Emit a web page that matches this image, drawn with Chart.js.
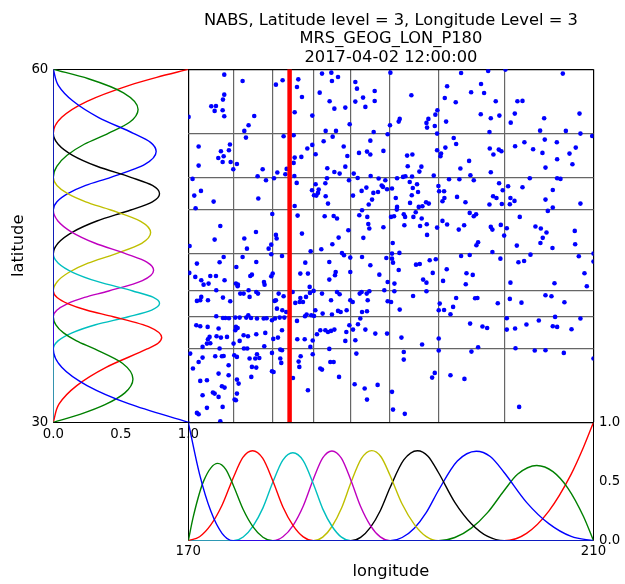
<!DOCTYPE html>
<html>
<head>
<meta charset="utf-8">
<script src="https://cdn.jsdelivr.net/npm/chart.js@4.4.1/dist/chart.umd.min.js"></script>
<style>
  body { margin: 0; background: #fff; }
  #wrap { position: relative; width: 625px; height: 584px; }
  #wrap canvas { position: absolute; left: 0; top: 0; }
</style>
</head>
<body>
<div id="wrap">
  <canvas id="lonChart" width="625" height="584"></canvas>
  <canvas id="latChart" width="625" height="584"></canvas>
  <canvas id="mainChart" width="625" height="584"></canvas>
</div>
<script>
// ---- data ----
const titleLines = ['NABS, Latitude level = 3, Longitude Level = 3', 'MRS_GEOG_LON_P180', '2017-04-02 12:00:00'];
const lonRange = [170, 210];
const latRange = [30, 60];
const lonKnots = [174.44, 178.34, 182.35, 186.04, 189.92, 194.69, 201.18];
const latKnots = [36.23, 38.97, 41.16, 44.30, 48.04, 50.82, 54.56];
const basisTicks = [0, 0.5, 1];
const markerLon = 180;

// longitude basis functions: [lon, value]
const lonB0 = [[170,1],[171.11,0.5625],[172.22,0.25],[173.33,0.0625],[174.44,0],[210,0]];
const lonB1 = [[170,0],[170.5,0.206],[171.5,0.501],[172.9,0.653],[173.7,0.603],[174.44,0.468],[175.42,0.263],[176.39,0.117],[177.37,0.029],[178.34,0],[210,0]];
const lonB2 = [[170,0],[171.11,0.033],[172.22,0.133],[173.33,0.299],[174.44,0.532],[175.39,0.703],[176.34,0.76],[177.34,0.697],[178.34,0.507],[179.34,0.285],[180.35,0.127],[181.35,0.032],[182.35,0],[210,0]];
const lonB3 = [[170,0],[174.44,0],[175.42,0.031],[176.39,0.123],[177.37,0.277],[178.34,0.493],[179.33,0.681],[180.32,0.743],[181.34,0.677],[182.35,0.479],[183.27,0.269],[184.2,0.12],[185.12,0.03],[186.04,0],[210,0]];
const lonB4 = [[170,0],[178.34,0],[179.34,0.033],[180.35,0.13],[181.35,0.293],[182.35,0.521],[183.27,0.699],[184.18,0.758],[185.11,0.697],[186.04,0.513],[187.01,0.289],[187.98,0.128],[188.95,0.032],[189.92,0],[210,0]];
const lonB5 = [[170,0],[182.35,0],[183.27,0.03],[184.2,0.122],[185.12,0.274],[186.04,0.487],[187.08,0.693],[188.11,0.761],[189.02,0.709],[189.92,0.551],[191.11,0.31],[192.31,0.138],[193.5,0.034],[194.69,0],[210,0]];
const lonB6 = [[170,0],[186.04,0],[187.01,0.028],[187.98,0.112],[188.95,0.253],[189.92,0.449],[191.27,0.682],[192.62,0.76],[193.66,0.714],[194.69,0.576],[196.31,0.324],[197.94,0.144],[199.56,0.036],[201.18,0],[210,0]];
const lonB7 = [[170,0],[189.92,0],[191.11,0.027],[192.31,0.106],[193.5,0.239],[194.69,0.424],[196.56,0.673],[198.43,0.756],[199.81,0.711],[201.18,0.576],[203.39,0.324],[205.59,0.144],[207.8,0.036],[210,0]];
const lonB8 = [[170,0],[194.69,0],[196.31,0.027],[197.94,0.106],[199.56,0.239],[201.18,0.424],[202.5,0.561],[204.4,0.635],[206,0.583],[207.5,0.44],[209,0.206],[210,0]];
const lonB9 = [[170,0],[201.18,0],[203.39,0.0625],[205.59,0.25],[207.8,0.5625],[209,0.787],[210,1]];

// latitude basis functions: [lat, value]
const latB0 = [[30,1],[31.56,0.5625],[33.12,0.25],[34.67,0.0625],[36.23,0],[60,0]];
const latB1 = [[30,0],[30.7,0.203],[31.5,0.383],[32.5,0.53],[33.68,0.59],[35,0.514],[36.23,0.306],[36.92,0.172],[37.6,0.076],[38.29,0.019],[38.97,0],[60,0]];
const latB2 = [[30,0],[31.56,0.043],[33.12,0.174],[34.67,0.391],[36.23,0.695],[36.72,0.776],[37.2,0.803],[38.09,0.713],[38.97,0.444],[39.52,0.25],[40.07,0.111],[40.61,0.028],[41.16,0],[60,0]];
const latB3 = [[30,0],[36.23,0],[36.92,0.035],[37.6,0.139],[38.29,0.313],[38.97,0.556],[39.54,0.729],[40.11,0.787],[40.64,0.738],[41.16,0.589],[41.95,0.331],[42.73,0.147],[43.52,0.037],[44.3,0],[60,0]];
const latB4 = [[30,0],[38.97,0],[39.52,0.026],[40.07,0.103],[40.61,0.231],[41.16,0.411],[42.05,0.66],[42.93,0.743],[43.62,0.693],[44.3,0.544],[45.24,0.306],[46.17,0.136],[47.11,0.034],[48.04,0],[60,0]];
const latB5 = [[30,0],[41.16,0],[41.95,0.029],[42.73,0.114],[43.52,0.257],[44.3,0.456],[45.21,0.655],[46.12,0.721],[47.08,0.647],[48.04,0.426],[48.74,0.24],[49.43,0.107],[50.13,0.027],[50.82,0],[60,0]];
const latB6 = [[30,0],[44.3,0],[45.24,0.036],[46.17,0.143],[47.11,0.323],[48.04,0.574],[48.74,0.734],[49.43,0.787],[50.13,0.734],[50.82,0.574],[51.76,0.323],[52.69,0.143],[53.63,0.036],[54.56,0],[60,0]];
const latB7 = [[30,0],[48.04,0],[48.74,0.027],[49.43,0.107],[50.13,0.24],[50.82,0.426],[51.92,0.678],[53.01,0.762],[53.79,0.72],[54.56,0.593],[55.92,0.333],[57.28,0.148],[58.64,0.037],[60,0]];
const latB8 = [[30,0],[50.82,0],[51.76,0.026],[52.69,0.102],[53.63,0.229],[54.56,0.407],[55.5,0.565],[56.59,0.628],[58,0.52],[59.2,0.26],[60,0]];
const latB9 = [[30,0],[54.56,0],[55.92,0.0625],[57.28,0.25],[58.64,0.5625],[59.32,0.766],[60,1]];

// observation locations: [lon, lat]
const obsLonLat = [
  [173.55,59.55],[175.36,59.01],[178.65,58.70],[179.31,59.07],[180.86,59.15],[180.73,58.50],[181.22,57.65],[183.20,59.64],[184.12,59.72],[184.18,59.01],
  [184.78,59.35],[182.97,58.02],[183.95,57.29],[184.42,56.66],[185.50,56.75],[186.49,58.93],[186.65,58.36],[187.25,57.60],[188.40,58.16],[188.40,57.31],
  [187.48,56.81],[186.49,57.26],[189.95,59.72],[173.55,57.85],[173.42,57.43],[172.27,56.86],[172.73,56.89],[172.60,56.47],[173.39,56.52],[173.55,56.01],
  [176.51,56.04],[175.95,55.25],[175.53,54.77],[175.69,54.20],[180.50,56.35],[182.24,56.07],[170.03,55.96],[179.41,54.31],[180.40,54.40],[183.56,54.77],
  [184.58,54.77],[184.25,54.28],[183.36,53.89],[185.93,55.33],[188.30,54.68],[189.68,54.48],[189.91,55.25],[187.97,53.94],[171.02,53.44],[174.11,53.61],
  [173.22,53.04],[174.01,53.12],[173.49,52.61],[172.96,52.47],[173.39,52.13],[174.18,52.13],[174.80,51.96],[174.44,51.51],[171.02,51.82],[177.34,51.51],
  [176.84,50.91],[177.67,50.57],[178.46,50.74],[178.79,51.23],[179.71,51.54],[179.58,51.08],[180.50,52.50],[180.40,52.05],[181.16,52.56],[180.47,50.94],
  [181.75,53.27],[182.24,53.58],[182.57,52.78],[185.34,53.44],[185.70,52.64],[186.85,52.90],[187.64,53.01],[187.97,52.76],[189.26,53.07],[183.72,51.59],
  [184.42,51.28],[184.94,51.14],[185.50,51.73],[186.33,51.14],[185.86,50.57],[186.72,50.77],[188.00,50.94],[188.79,50.72],[189.45,50.57],[183.69,50.74],
  [183.53,50.32],[170.42,50.69],[171.25,49.67],[170.59,49.27],[170.72,48.20],[172.50,48.76],[176.91,49.02],[178.29,47.71],[180.70,50.35],[182.21,49.73],
  [182.57,50.24],[182.87,49.78],[182.80,49.50],[182.41,49.30],[182.64,49.27],[183.56,49.22],[183.79,48.59],[186.26,49.27],[187.11,49.67],[187.58,49.95],
  [188.14,48.93],[188.27,49.50],[188.73,49.58],[189.09,50.12],[189.22,50.01],[189.62,49.81],[187.81,48.51],[187.15,48.03],[186.88,47.60],[187.67,47.46],
  [187.77,46.86],[187.87,46.47],[189.26,46.58],[190.01,47.46],[190.31,47.52],[185.80,46.33],[184.84,45.70],[184.35,47.54],[184.68,47.32],[183.46,47.52],
  [180.50,48.39],[180.79,47.57],[181.22,46.04],[173.16,46.69],[176.68,46.18],[175.53,45.62],[172.60,45.53],[178.65,45.93],[178.72,45.62],[187.28,45.68],
  [196.93,59.69],[199.60,59.86],[201.31,59.98],[206.97,59.64],[192.02,57.80],[195.55,58.56],[195.32,57.57],[196.40,57.20],[198.90,58.76],[197.92,58.05],
  [199.20,57.99],[200.35,57.29],[202.49,57.29],[202.99,57.32],[198.87,56.18],[199.86,55.84],[200.71,56.07],[202.23,56.24],[201.83,55.47],[205.13,55.84],
  [208.62,56.24],[190.87,55.79],[190.77,55.56],[193.51,55.45],[193.57,55.05],[193.70,55.79],[194.39,56.15],[194.59,56.52],[194.33,55.19],[195.45,55.56],
  [194.56,54.54],[199.73,54.68],[204.73,54.79],[207.27,54.77],[208.71,54.54],[209.87,54.34],[196.20,54.17],[196.44,53.66],[195.38,53.35],[194.95,52.84],
  [194.89,52.61],[194.56,53.12],[197.72,52.22],[196.86,51.57],[199.76,53.27],[200.12,52.76],[200.65,53.18],[200.91,53.04],[199.86,51.25],[202.26,53.46],
  [203.18,53.80],[204.04,53.21],[205.19,54.03],[204.96,52.90],[206.38,53.80],[206.41,52.36],[207.63,52.84],[207.92,51.93],[208.25,53.35],[205.26,51.65],
  [191.60,52.67],[192.12,52.76],[191.66,51.76],[193.01,51.73],[192.81,51.31],[194.23,50.97],[190.61,50.74],[191.20,50.86],[191.43,50.91],[192.09,50.89],
  [191.86,50.43],[192.58,50.23],[192.16,49.92],[190.11,49.87],[192.68,49.58],[190.48,49.07],[192.06,49.30],[191.89,48.65],[190.61,48.31],[190.58,48.08],
  [192.75,48.31],[193.11,48.37],[193.47,48.71],[193.74,48.59],[194.69,50.09],[194.76,49.64],[195.25,49.64],[195.28,49.07],[195.09,48.79],[195.74,50.66],
  [196.76,50.66],[197.85,51.00],[198.18,50.57],[196.53,49.16],[197.36,48.71],[199.73,48.51],[200.09,49.22],[200.42,49.07],[200.68,50.32],[201.04,49.72],
  [201.57,50.06],[200.95,48.56],[201.80,49.07],[202.20,48.82],[201.74,48.53],[202.99,49.98],[203.71,50.74],[206.41,50.74],[206.74,50.69],[205.98,49.75],
  [205.26,48.93],[205.98,48.25],[205.49,47.97],[208.71,48.59],[191.27,47.69],[191.40,47.46],[192.45,47.86],[192.22,47.46],[193.04,47.32],[191.33,46.75],
  [192.88,46.69],[193.54,46.84],[193.57,45.93],[194.56,46.55],[195.09,47.12],[195.55,46.81],[197.23,46.75],[196.70,46.38],[197.78,47.80],[198.18,47.52],
  [198.41,47.69],[199.86,46.61],[200.02,46.38],[200.85,46.78],[201.44,46.50],[201.18,45.87],[202.72,47.46],[204.27,46.64],[204.80,46.47],[205.36,46.13],
  [204.99,45.68],[208.15,46.27],
  [190.18,45.24],[190.11,44.34],[190.84,44.40],[190.11,43.91],[190.21,43.57],[190.35,41.79],[190.77,42.95],[191.04,37.20],[191.27,35.98],[191.27,35.33],
  [190.11,32.59],[190.21,31.08],[191.37,30.72],[190.02,40.23],[190.87,39.58],[192.19,40.74],[192.48,43.40],[192.85,43.46],[193.18,42.13],[193.51,41.87],
  [193.51,41.14],[193.83,43.77],[194.43,43.86],[194.13,42.70],[194.82,40.09],[194.72,39.52],[195.25,39.55],[195.88,39.18],[196.14,39.81],[196.44,40.57],
  [195.51,43.01],[195.15,42.02],[196.93,44.14],[197.78,44.22],[197.46,42.67],[198.08,42.53],[197.39,41.73],[198.44,45.05],[198.61,45.30],[200.02,44.48],
  [200.81,43.91],[202.59,43.60],[203.15,43.71],[203.78,44.25],[202.43,45.02],[204.76,45.24],[205.95,44.82],[208.19,45.13],[208.55,44.11],[209.11,42.67],
  [209.34,41.56],[206.15,41.82],[201.80,41.87],[201.74,40.49],[200.55,40.12],[198.31,40.54],[198.54,40.57],[197.82,38.39],[199.04,38.14],[199.50,38.02],
  [201.44,38.84],[201.44,37.88],[202.26,37.97],[202.89,40.17],[203.38,38.31],[204.60,38.65],[205.26,40.80],[205.85,40.71],[207.13,40.20],[206.21,38.96],
  [205.98,38.16],[206.41,38.11],[207.83,37.91],[208.71,38.82],[210.00,44.34],[210.00,43.66],[210.00,35.42],[194.72,37.12],[194.72,36.10],[193.08,36.61],
  [198.61,36.38],[197.95,36.01],[202.30,36.30],[204.20,36.10],[205.26,36.13],[207.07,35.90],[194.33,34.20],[194.07,33.80],[195.88,34.00],[197.26,33.69],
  [202.66,31.31],
  [170.13,44.99],[170.85,43.49],[170.69,42.36],[170.10,42.70],[171.28,42.07],[171.51,41.70],[172.00,41.79],[172.17,42.44],[172.73,42.44],[172.76,41.22],
  [173.09,43.60],[173.49,44.05],[173.58,42.07],[174.74,43.20],[175.36,44.05],[175.79,44.76],[176.12,42.44],[176.28,42.55],[176.71,43.63],[177.47,41.93],
  [177.53,41.70],[174.70,41.79],[174.90,41.70],[174.87,41.56],[175.46,40.94],[175.95,41.22],[176.71,41.08],[176.88,40.94],[176.05,40.66],[175.13,40.94],
  [177.93,44.76],[178.19,45.10],[178.19,44.28],[179.25,44.14],[178.33,42.64],[178.19,42.41],[182.08,44.54],[181.55,43.57],[181.06,42.64],[181.81,42.64],
  [181.98,41.51],[182.37,41.17],[183.20,40.94],[183.13,44.71],[183.92,43.63],[184.22,45.13],[185.17,44.39],[185.37,44.20],[185.99,44.00],[185.99,42.78],
  [184.55,42.78],[184.48,42.50],[183.92,42.13],[187.15,44.05],[187.97,43.35],[188.86,42.55],[189.55,43.97],[189.68,41.93],[189.35,41.22],[187.87,41.14],
  [187.61,40.94],[187.11,41.08],[186.92,40.94],[185.99,40.37],[186.23,40.23],[187.71,40.37],[184.68,41.08],[184.94,40.88],[184.09,40.37],[184.78,39.47],
  [185.04,39.38],[185.63,39.52],[184.18,39.16],[183.26,39.24],[182.41,39.04],[182.14,39.10],[181.68,39.16],[181.52,39.01],[180.99,40.23],[180.56,40.15],
  [181.06,40.57],[181.62,40.66],[182.01,41.00],[181.32,40.23],[178.92,40.94],[179.41,40.71],[180.30,41.08],[178.75,39.66],[179.28,39.52],[179.67,39.38],
  [178.65,40.37],[178.52,40.32],[177.73,38.84],[178.26,38.67],[178.56,38.82],[179.02,38.90],[179.48,38.90],[180.73,38.62],[182.54,39.52],[170.85,40.32],
  [171.18,40.37],[171.94,40.37],[171.28,40.66],[173.42,40.60],[174.14,40.29],[173.42,38.87],[173.65,38.87],[174.01,38.84],[172.76,39.01],[174.64,38.90],
  [175.07,38.90],[174.70,38.11],[174.87,38.02],[174.64,37.82],[175.92,39.10],[175.72,38.90],[176.19,38.87],[176.78,38.82],[177.44,38.82],[170.79,38.25],
  [171.18,38.16],[171.91,38.11],[172.10,37.26],[171.94,37.06],[172.17,36.72],[171.84,36.69],[171.41,36.41],[172.99,37.97],[172.79,37.31],[173.09,36.27],
  [173.49,35.64],[173.22,37.20],[173.82,37.26],[175.07,36.92],[174.47,36.69],[175.46,37.40],[175.89,37.31],[175.49,36.27],[175.82,36.27],[176.71,37.48],
  [177.60,37.60],[178.39,37.09],[178.85,37.20],[179.25,37.82],[177.50,36.47],[178.26,35.90],[179.08,36.18],[179.25,36.13],[179.08,35.42],[179.18,35.05],
  [176.78,35.79],[176.61,35.42],[177.01,35.47],[176.05,35.42],[176.28,34.71],[176.71,34.65],[176.22,33.86],[174.80,35.56],[174.54,35.70],[173.98,34.85],
  [173.32,35.62],[172.66,35.62],[170.46,34.57],[171.41,35.50],[171.02,35.13],[170.19,35.84],[181.49,37.06],[180.76,37.06],[182.28,36.95],[182.28,35.79],
  [182.05,36.41],[182.70,37.48],[183.03,37.82],[183.53,37.82],[183.79,37.68],[184.09,37.77],[184.42,37.88],[183.92,36.24],[184.02,35.13],[184.35,35.13],
  [184.88,33.86],[185.50,36.92],[185.60,37.68],[185.90,38.25],[186.26,37.88],[186.49,36.97],[186.75,38.33],[186.98,38.82],[187.48,37.88],[187.64,39.44],
  [187.15,39.38],[188.46,37.54],[189.62,37.54],[189.68,40.29],[190.34,41.14],[186.59,35.84],[187.41,32.87],[187.64,31.93],[188.69,33.18],[186.42,33.24],
  [181.81,32.73],[181.09,35.62],[180.89,35.16],[180.96,34.71],[180.33,33.77],[183.03,34.57],[183.20,34.48],[178.26,34.34],[178.42,34.28],[174.80,33.63],
  [174.97,33.29],[174.57,31.93],[174.70,31.88],[174.80,32.44],[173.98,34.00],[172.99,34.14],[173.32,33.07],[173.58,32.95],[172.99,32.16],[172.43,32.53],
  [172.60,32.44],[171.84,33.58],[171.18,33.52],[171.41,32.30],[171.84,31.23],[171.02,30.69],[170.85,30.80],[173.39,31.31],[173.16,30.09],[170.00,29.90]
];

// ---- drawing ----
Chart.defaults.font.family = "'DejaVu Sans', sans-serif";
Chart.defaults.color = '#000';
Chart.defaults.animation = false;

const W = 625, H = 584;
const plotL = 188.3, plotR = 593.5, plotT = 69.3, plotB = 422.3;  // main axes box
const lonB = 540.7;   // bottom of longitude panel
const latL = 53.3;    // left of latitude panel

const curveColors = ['#0000ff', '#008000', '#ff0000', '#00bfbf', '#bf00bf', '#bfbf00', '#000000', '#0000ff', '#008000', '#ff0000'];
const lonCurves = [lonB0, lonB1, lonB2, lonB3, lonB4, lonB5, lonB6, lonB7, lonB8, lonB9];
const latCurves = [latB0, latB1, latB2, latB3, latB4, latB5, latB6, latB7, latB8, latB9];

const setTicks = values => axis => { axis.ticks = values.map(v => ({ value: v })); };
const frameColor = (lo, hi, inner) => ctx => (ctx.tick && (ctx.tick.value === lo || ctx.tick.value === hi)) ? '#000' : inner;

// longitude basis panel (bottom)
new Chart(document.getElementById('lonChart'), {
  type: 'line',
  data: {
    datasets: lonCurves.map((c, i) => ({
      data: c.map(p => ({ x: p[0], y: p[1] })),
      borderColor: curveColors[i],
      borderWidth: 1.4,
      pointRadius: 0,
      cubicInterpolationMode: 'monotone',
      clip: 0
    }))
  },
  options: {
    responsive: false,
    layout: { padding: { left: plotL, right: 0, top: plotB, bottom: 0 } },
    plugins: { legend: { display: false }, tooltip: { enabled: false } },
    scales: {
      x: {
        type: 'linear', min: lonRange[0], max: lonRange[1],
        afterBuildTicks: setTicks(lonRange),
        afterFit: s => { s.height = H - lonB; },
        ticks: { font: { size: 13.3 }, padding: 3, maxRotation: 0, autoSkip: false },
        grid: { drawTicks: false, color: '#000', lineWidth: 1 },
        border: { display: false },
        title: { display: true, text: 'longitude', font: { size: 16.3 }, padding: { top: 0, bottom: 2.4 } }
      },
      y: {
        type: 'linear', position: 'right', min: 0, max: 1,
        afterBuildTicks: setTicks(basisTicks),
        afterFit: s => { s.width = W - plotR; },
        ticks: { font: { size: 13.3 }, padding: 5.5, callback: v => v.toFixed(1) },
        grid: { drawTicks: false, color: frameColor(0, 1, 'rgba(0,0,0,0)'), lineWidth: 1 },
        border: { display: false }
      }
    }
  }
});

// latitude basis panel (left)
new Chart(document.getElementById('latChart'), {
  type: 'line',
  data: {
    datasets: latCurves.map((c, i) => ({
      data: c.map(p => ({ x: p[1], y: p[0] })),
      borderColor: curveColors[i],
      borderWidth: 1.4,
      pointRadius: 0,
      cubicInterpolationMode: 'monotone',
      clip: 0
    }))
  },
  options: {
    responsive: false,
    indexAxis: 'y',
    layout: { padding: { left: 0, right: W - plotL, top: plotT, bottom: 0 } },
    plugins: { legend: { display: false }, tooltip: { enabled: false } },
    scales: {
      x: {
        type: 'linear', position: 'bottom', min: 0, max: 1,
        afterBuildTicks: setTicks(basisTicks),
        afterFit: s => { s.height = H - plotB; },
        ticks: { font: { size: 13.3 }, padding: 4.7, maxRotation: 0, autoSkip: false, callback: v => v.toFixed(1) },
        grid: { drawTicks: false, color: frameColor(0, 1, 'rgba(0,0,0,0)'), lineWidth: 1 },
        border: { display: false }
      },
      y: {
        type: 'linear', position: 'left', min: latRange[0], max: latRange[1],
        afterBuildTicks: setTicks(latRange),
        afterFit: s => { s.width = latL; },
        ticks: { font: { size: 13.3 }, padding: 5 },
        grid: { drawTicks: false, color: '#000', lineWidth: 1 },
        border: { display: false },
        title: { display: true, text: 'latitude', font: { size: 16.3 }, padding: { top: 9, bottom: 0 } }
      }
    }
  }
});

// main scatter of observation locations
new Chart(document.getElementById('mainChart'), {
  type: 'scatter',
  data: {
    datasets: [
      {
        data: [{ x: markerLon, y: latRange[0] }, { x: markerLon, y: latRange[1] }],
        showLine: true,
        borderColor: '#ff0000',
        borderWidth: 4.5,
        pointRadius: 0,
        clip: 0
      },
      {
        data: obsLonLat.map(p => ({ x: p[0], y: p[1] })),
        backgroundColor: '#0000ff',
        borderWidth: 0,
        pointRadius: 2.3,
        clip: 0
      }
    ]
  },
  options: {
    responsive: false,
    layout: { padding: { left: plotL, right: W - plotR, top: 0, bottom: H - plotB } },
    plugins: {
      legend: { display: false },
      tooltip: { enabled: false },
      title: {
        display: true,
        text: titleLines,
        color: '#000',
        font: { size: 16.3, weight: 'normal', lineHeight: 1.13 },
        padding: { top: 11.3, bottom: 2.8 }
      }
    },
    scales: {
      x: {
        type: 'linear', min: lonRange[0], max: lonRange[1],
        afterBuildTicks: setTicks([lonRange[0], ...lonKnots, lonRange[1]]),
        afterFit: s => { s.height = 0; },
        ticks: { display: false },
        grid: { drawTicks: false, color: frameColor(lonRange[0], lonRange[1], '#666'), lineWidth: 1.2 },
        border: { display: false }
      },
      y: {
        type: 'linear', min: latRange[0], max: latRange[1],
        afterBuildTicks: setTicks([latRange[0], ...latKnots, latRange[1]]),
        afterFit: s => { s.width = 0; },
        ticks: { display: false },
        grid: { drawTicks: false, color: frameColor(latRange[0], latRange[1], '#666'), lineWidth: 1.2 },
        border: { display: false }
      }
    }
  }
});
</script>
</body>
</html>
